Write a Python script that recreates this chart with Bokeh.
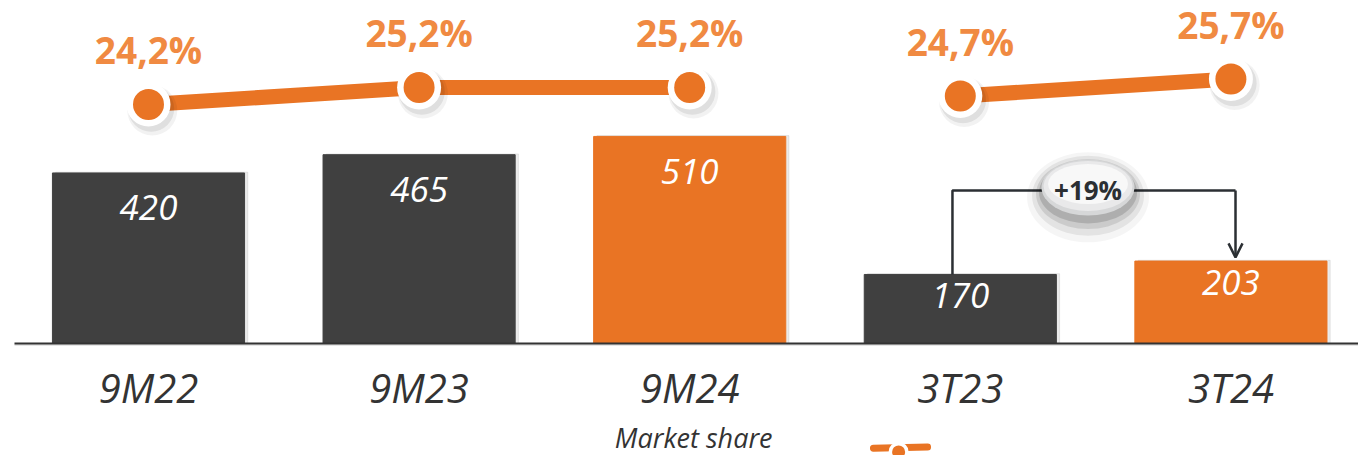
from bokeh.plotting import figure
from bokeh.models import Range1d, Arrow, OpenHead
from bokeh.core.properties import value
from bokeh.embed import file_html
from bokeh.resources import INLINE

# ---- data ----
categories = ["9M22", "9M23", "9M24", "3T23", "3T24"]
volumes = [420, 465, 510, 170, 203]
shares = [24.2, 25.2, 25.2, 24.7, 25.7]
share_labels = ["24,2%", "25,2%", "25,2%", "24,7%", "25,7%"]
growth_label = "+19%"
legend_label = "Market share"

ORANGE = "#E97424"
DARK = "#404040"
bar_colors = [DARK, DARK, ORANGE, DARK, ORANGE]
FONT = value("Open Sans")

idx = list(range(len(categories)))

p = figure(width=1358, height=455,
           x_range=Range1d(-0.5469, 4.4715), y_range=Range1d(-275.9, 844.8),
           output_backend="svg", toolbar_location=None, min_border=0,
           x_axis_location=None, y_axis_location=None)
p.extra_y_ranges = {"pct": Range1d(3.553, 30.318)}
p.grid.visible = False
p.outline_line_color = None
p.background_fill_color = "white"

# ---- bars ----
p.vbar(x=[i + 0.012 for i in idx], top=[v + 2 for v in volumes], width=0.71,
       color="#000000", alpha=0.08)
p.vbar(x=idx, top=volumes, width=0.71, color=bar_colors)

# axis line
p.segment(x0=[-0.4952], y0=[-4], x1=[4.4715], y1=[-4], line_color="#000000",
          line_alpha=0.10, line_width=2)
p.segment(x0=[-0.4952], y0=[0], x1=[4.4715], y1=[0], line_color="#333333", line_width=2)

# value labels inside bars
p.text(x=idx[:3], y=volumes[:3], text=[str(v) for v in volumes[:3]],
       y_offset=35, text_align="center", text_baseline="alphabetic",
       text_font=FONT, text_font_style="italic", text_font_size="35px",
       text_color="white")
p.text(x=idx[3:], y=volumes[3:], text=[str(v) for v in volumes[3:]],
       y_offset=21, text_align="center", text_baseline="alphabetic",
       text_font=FONT, text_font_style="italic", text_font_size="35px",
       text_color="white")

# category labels
p.text(x=idx, y=[0] * len(idx), text=categories, y_offset=44,
       text_align="center", text_baseline="alphabetic", text_font=FONT,
       text_font_style="italic", text_font_size="40px", text_color="#333333")

# legend text + icon
p.text(x=[2], y=[0], text=[legend_label], x_offset=4, y_offset=94,
       text_align="center", text_baseline="alphabetic", text_font=FONT,
       text_font_style="italic", text_font_size="27px", text_color="#333333")
p.line(x=[2.679, 2.879], y=[-258, -255], line_color=ORANGE, line_width=7,
       line_cap="round")
p.scatter(x=[2.772], y=[-267], size=20, marker="circle", fill_color="white",
          line_color=None)
p.scatter(x=[2.772], y=[-267], size=13, marker="circle", fill_color=ORANGE,
          line_color=None)

# ---- market share line ----
for sl in (slice(0, 3), slice(3, 5)):
    p.line(x=idx[sl], y=shares[sl], y_range_name="pct", line_width=15,
           line_color=ORANGE, line_cap="butt")
for dx, dy, sz, a in ((0.014, -0.35, 50, 0.05), (0.010, -0.25, 46, 0.08)):
    p.scatter(x=[i + dx for i in idx], y=[s + dy for s in shares], size=sz,
              marker="circle", fill_color="#000000", fill_alpha=a,
              line_color=None, y_range_name="pct")
p.scatter(x=idx, y=shares, size=44, marker="circle", fill_color="white",
          line_color=None, y_range_name="pct")
p.scatter(x=idx, y=shares, size=31, marker="circle", fill_color=ORANGE,
          line_color=None, y_range_name="pct")
p.text(x=idx, y=shares, text=share_labels, y_range_name="pct", y_offset=-55,
       text_align="center", text_baseline="alphabetic", text_font=FONT,
       text_font_style="bold", text_font_size="37px", text_color="#F08A42")

# ---- growth bracket ----
bx0 = idx[3] - 0.029
bx1 = idx[4] + 0.017
btop = 377
p.line(x=[bx0, bx0, bx1], y=[volumes[3], btop, btop], line_color="#2b2f33",
       line_width=2.5)
p.add_layout(Arrow(end=OpenHead(size=14, line_width=2.5, line_color="#2b2f33"),
                   x_start=bx1, y_start=btop, x_end=bx1, y_end=volumes[4] + 9,
                   line_color="#2b2f33", line_width=2.5))

# pill with shadow
px, py = 3.472, 384
for w, h, dy, a in ((122, 90, -24, 0.04), (112, 80, -20, 0.07), (104, 70, -16, 0.10),
                    (98, 62, -12, 0.14)):
    p.ellipse(x=[px], y=[py + dy], width=w, height=h, width_units="screen",
              height_units="screen", fill_color="#000000", fill_alpha=a, line_color=None)
p.ellipse(x=[px], y=[py], width=93, height=56, width_units="screen",
          height_units="screen", fill_color="#d6d7d8", line_color=None)
p.ellipse(x=[px], y=[py + 4], width=89, height=50, width_units="screen",
          height_units="screen", fill_color="#e9e9ea", line_color=None)
p.ellipse(x=[px], y=[py + 9], width=80, height=40, width_units="screen",
          height_units="screen", fill_color="#f8f8f8", line_color=None)
p.text(x=[px], y=[py], text=[growth_label], y_offset=2, text_align="center",
       text_baseline="alphabetic", text_font=FONT, text_font_style="bold",
       text_font_size="26px", text_color="#2b2f33")

open("out.html", "w").write(file_html(p, INLINE))
